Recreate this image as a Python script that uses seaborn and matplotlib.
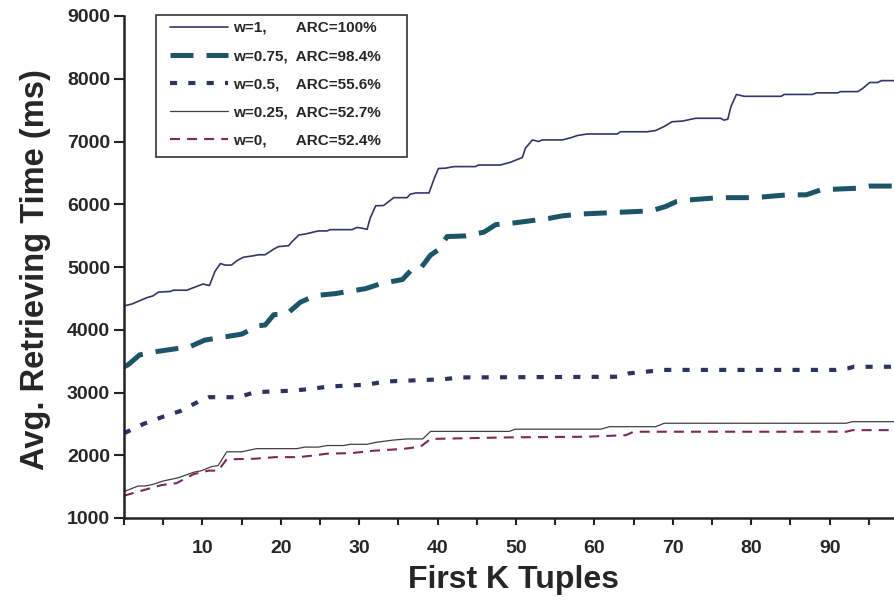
import matplotlib
matplotlib.use("Agg")
import matplotlib.pyplot as plt
from matplotlib.patches import Rectangle
import seaborn as sns
import pandas as pd

# ---- data (K, avg retrieving time in ms) ----
w1 = [(0, 4380), (1, 4410), (2.9, 4510), (3.7, 4540), (4.4, 4600), (5.9, 4610), (6.3, 4630),
      (8, 4630), (10.1, 4730), (10.5, 4715), (10.9, 4705), (11.6, 4930), (12.3, 5055),
      (12.9, 5030), (13.7, 5030), (14.4, 5100), (15.2, 5155), (16.3, 5175), (17.2, 5195),
      (18, 5195), (19.1, 5285), (19.7, 5325), (21, 5340), (21.4, 5400), (22.3, 5510),
      (23.1, 5525), (24.8, 5575), (25.9, 5575), (26.3, 5595), (29.1, 5595), (29.7, 5630),
      (30.3, 5620), (31, 5600), (31.4, 5780), (32.1, 5975), (33.1, 5980), (34.4, 6105),
      (36.1, 6105), (36.5, 6160), (37.2, 6180), (38.9, 6180), (39.5, 6390), (40.1, 6570),
      (41, 6575), (42.1, 6600), (44.8, 6600), (45.2, 6625), (48, 6625), (49.3, 6670),
      (50.8, 6745), (51.2, 6895), (52.1, 7025), (52.9, 7000), (53.3, 7025), (55.9, 7025),
      (57, 7060), (57.8, 7095), (59.1, 7120), (62.9, 7120), (63.3, 7155), (66.7, 7155),
      (67.8, 7175), (68.9, 7240), (69.9, 7315), (71.2, 7325), (72.9, 7370), (76.1, 7370),
      (76.5, 7340), (77, 7355), (77.4, 7555), (78.1, 7750), (79.1, 7720), (83.8, 7720),
      (84.2, 7750), (87.8, 7750), (88.3, 7775), (91, 7775), (91.4, 7795), (93.6, 7795),
      (94.2, 7845), (95.1, 7940), (96.1, 7940), (96.6, 7970), (98.2, 7970)]

w075 = [(0, 3410), (0.5, 3440), (2, 3600), (4, 3650), (6.5, 3695), (8.4, 3730), (10.3, 3835),
        (15, 3930), (17.2, 4065), (18, 4075), (19.1, 4240), (20.8, 4255), (22.5, 4440),
        (24.4, 4545), (26.9, 4575), (30.8, 4655), (32.9, 4740), (35.5, 4800), (36.7, 4960),
        (37.8, 4975), (39.1, 5190), (40.1, 5275), (41.2, 5485), (43.5, 5495), (45.9, 5555),
        (47.4, 5675), (49.9, 5705), (54.2, 5775), (55.9, 5815), (58.4, 5845), (64.6, 5880),
        (67.2, 5895), (69.1, 5965), (70.4, 6040), (71.6, 6065), (75.9, 6105), (80.4, 6105),
        (84.6, 6150), (87, 6150), (88.9, 6230), (93.4, 6255), (95.1, 6290), (98.2, 6290)]

w05 = [(0, 2350), (2.5, 2500), (5, 2615), (7.2, 2705), (9.5, 2855), (10.8, 2925), (14.6, 2925),
       (16.7, 3005), (21.6, 3030), (24, 3060), (26.1, 3095), (31, 3125), (33.3, 3175),
       (38.4, 3200), (40.6, 3210), (42.9, 3240), (61.8, 3250), (63.3, 3252), (64.4, 3305),
       (66.5, 3330), (68.7, 3360), (90.8, 3360), (92.3, 3385), (93.1, 3410), (98.2, 3410)]

w025 = [(0, 1420), (1.8, 1510), (2.7, 1510), (3.7, 1535), (5, 1590), (6.9, 1640), (8.9, 1730),
        (9.9, 1755), (11.2, 1820), (12, 1835), (13.1, 2055), (15, 2055), (16.9, 2105),
        (22, 2105), (23.1, 2130), (24.8, 2130), (25.9, 2155), (28, 2155), (28.9, 2175),
        (31, 2175), (32.1, 2205), (34.2, 2240), (36.1, 2260), (38.1, 2260), (39.1, 2380),
        (49.1, 2380), (49.9, 2415), (60.8, 2415), (61.9, 2455), (67.8, 2455), (68.9, 2510),
        (92.1, 2510), (92.9, 2535), (98.2, 2535)]

w0 = [(0, 1355), (1.8, 1420), (4.8, 1525), (6.7, 1555), (8.9, 1700), (10.8, 1755), (12, 1755),
      (13.1, 1935), (16.7, 1945), (19.3, 1970), (22.3, 1970), (24.4, 2000), (25.9, 2025),
      (29.1, 2035), (31.6, 2070), (35.5, 2100), (37.8, 2135), (39.1, 2260), (49.1, 2285),
      (58.9, 2295), (64, 2320), (65, 2375), (92.1, 2375), (92.9, 2400), (98.2, 2400)]

labels = ["w=1,       ARC=100%",
          "w=0.75,  ARC=98.4%",
          "w=0.5,    ARC=55.6%",
          "w=0.25,  ARC=52.7%",
          "w=0,       ARC=52.4%"]
x_ticks = [10, 20, 30, 40, 50, 60, 70, 80, 90]
y_ticks = [1000, 2000, 3000, 4000, 5000, 6000, 7000, 8000, 9000]

# ---- styling ----
sns.set_style("ticks")
plt.rcParams["font.family"] = ["Liberation Sans", "DejaVu Sans"]
plt.rcParams["font.weight"] = "bold"

styles = [
    dict(color="#35356b", lw=1.2, ls="-"),
    dict(color="#1c5468", lw=3.6, ls=(0, (4.6, 2.6))),
    dict(color="#2e3262", lw=3.0, ls=(0, (1.7, 2.7))),
    dict(color="#404040", lw=0.9, ls="-"),
    dict(color="#7b2a57", lw=1.5, ls=(0, (4.8, 3.4))),
]

W, H = 894, 608
fig = plt.figure(figsize=(W / 100, H / 100), dpi=100)
ax = fig.add_axes([124 / W, 1 - 518 / H, 1 - 124 / W, (518 - 16) / H])

for data, lab, st in zip([w1, w075, w05, w025, w0], labels, styles):
    df = pd.DataFrame(data, columns=["K", "ms"])
    sns.lineplot(data=df, x="K", y="ms", ax=ax, label=lab, estimator=None,
                 color=st["color"], linewidth=st["lw"], linestyle=st["ls"])

ax.set_xlim(0, 98.2)
ax.set_ylim(1000, 9000)
ax.set_xticks(x_ticks)
ax.set_xticks([0, 5, 15, 25, 35, 45, 55, 65, 75, 85, 95], minor=True)
ax.set_yticks(y_ticks)
ax.set_xticklabels([str(t) for t in x_ticks], fontsize=14, fontweight="bold")
ax.set_yticklabels([str(t) for t in y_ticks], fontsize=14, fontweight="bold")
ax.tick_params(axis="x", which="both", direction="out", length=5, width=1.5,
               color="#222222", pad=11)
ax.tick_params(axis="y", which="both", direction="out", length=7, width=1.5,
               color="#222222", pad=3)

for side in ["top", "right"]:
    ax.spines[side].set_visible(False)
for side in ["left", "bottom"]:
    ax.spines[side].set_linewidth(1.8)
    ax.spines[side].set_color("#222222")

ax.set_xlabel("First K Tuples", fontsize=23, fontweight="bold")
ax.set_ylabel("Avg. Retrieving Time (ms)", fontsize=23.5, fontweight="bold")
ax.xaxis.set_label_coords((513 - 124) / 770, -(565 - 518) / 502)
ax.yaxis.set_label_coords((51 - 124) / 770, (518 - 270) / 502)

# legend without frame, frame drawn as separate rectangle
ax.get_legend().remove()
handles = ax.get_lines()[:5]
leg = fig.legend(handles, labels, loc="upper left",
                 bbox_to_anchor=(170 / W, 1 - 21 / H), bbox_transform=fig.transFigure,
                 frameon=False, prop=dict(size=11, weight="bold"), handlelength=3.8,
                 handletextpad=0.33, labelspacing=0.92, borderpad=0, borderaxespad=0)
fig.add_artist(Rectangle((156 / W, 1 - 157 / H), (407 - 156) / W, (157 - 15) / H,
                         transform=fig.transFigure, fill=False, edgecolor="#333333",
                         linewidth=1.2))

fig.savefig("out.png", dpi=100)
